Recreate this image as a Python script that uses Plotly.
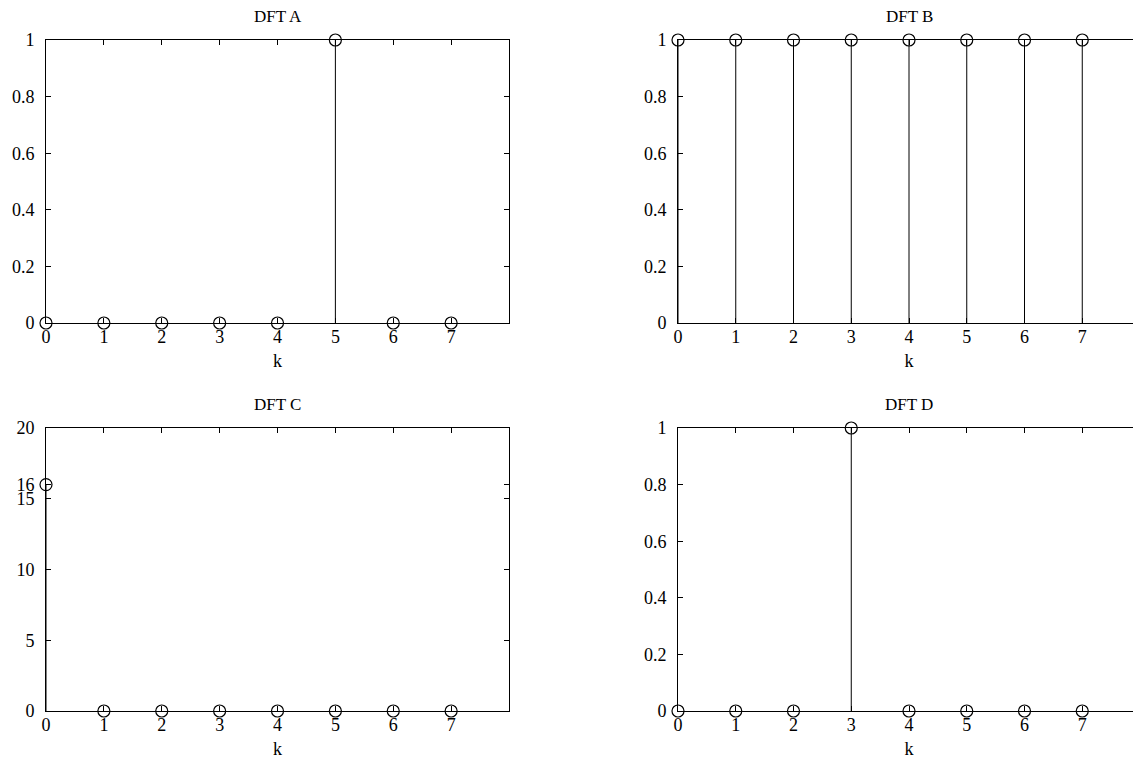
import plotly.graph_objects as go

k = [0, 1, 2, 3, 4, 5, 6, 7]
dft_a = [0, 0, 0, 0, 0, 1, 0, 0]
dft_b = [1, 1, 1, 1, 1, 1, 1, 1]
dft_c = [16, 0, 0, 0, 0, 0, 0, 0]
dft_d = [0, 0, 0, 1, 0, 0, 0, 0]
titles = ["DFT A", "DFT B", "DFT C", "DFT D"]
x_ticks = [0, 1, 2, 3, 4, 5, 6, 7]
y_ticks_unit = [0, 0.2, 0.4, 0.6, 0.8, 1]
y_ticks_c = [0, 5, 10, 15, 16, 20]

FONT = "Liberation Serif"
OFF = 8  # page body margin
W, H = 1141 - OFF, 759 - OFF
xdom_l = [(46 - OFF) / W, (509 - OFF) / W]
xdom_r = [(678 - OFF) / W, (1140 - OFF) / W]
ydom_t = [1 - (323 - OFF) / H, 1 - (40 - OFF) / H]
ydom_b = [1 - (711 - OFF) / H, 1 - (428 - OFF) / H]

panels = [
    (dft_a, xdom_l, ydom_t, [0, 1], y_ticks_unit),
    (dft_b, xdom_r, ydom_t, [0, 1], y_ticks_unit),
    (dft_c, xdom_l, ydom_b, [0, 20], y_ticks_c),
    (dft_d, xdom_r, ydom_b, [0, 1], y_ticks_unit),
]

fig = go.Figure()
layout = {}
for i, (vals, xd, yd, yr, yt) in enumerate(panels):
    n = "" if i == 0 else str(i + 1)
    xs, ys = [], []
    for kk, v in zip(k, vals):
        xs += [kk, kk, None]
        ys += [0, v, None]
    fig.add_trace(go.Scatter(x=xs, y=ys, mode="lines", line=dict(color="black", width=1),
                             xaxis="x" + n, yaxis="y" + n, showlegend=False, hoverinfo="skip",
                             cliponaxis=False))
    fig.add_trace(go.Scatter(x=k, y=vals, mode="markers",
                             marker=dict(symbol="circle-open", size=12, color="black",
                                         line=dict(width=1.2, color="black")),
                             xaxis="x" + n, yaxis="y" + n, showlegend=False, cliponaxis=False))
    common = dict(showline=True, linecolor="black", linewidth=1, mirror="ticks",
                  ticks="inside", ticklen=5, tickcolor="black", tickwidth=1,
                  showgrid=False, zeroline=False, automargin=False,
                  tickfont=dict(family=FONT, size=18, color="black"))
    layout["xaxis" + n] = dict(domain=xd, range=[0, 8], tickvals=x_ticks,
                               anchor="y" + n,
                               title=dict(text="k", standoff=8,
                                          font=dict(family=FONT, size=18, color="black")),
                               ticklabelstandoff=-3, **common)
    layout["yaxis" + n] = dict(domain=yd, range=yr, tickvals=yt, anchor="x" + n,
                               ticklabelstandoff=7, **common)
    fig.add_annotation(text=titles[i], xref="paper", yref="paper",
                       x=(xd[0] + xd[1]) / 2, y=yd[1], yanchor="bottom", xanchor="center",
                       yshift=12, showarrow=False,
                       font=dict(family=FONT, size=17, color="black"))

fig.update_layout(width=W, height=H, margin=dict(l=0, r=0, t=0, b=0),
                  paper_bgcolor="white", plot_bgcolor="white", **layout)
fig.write_html("out.html")
